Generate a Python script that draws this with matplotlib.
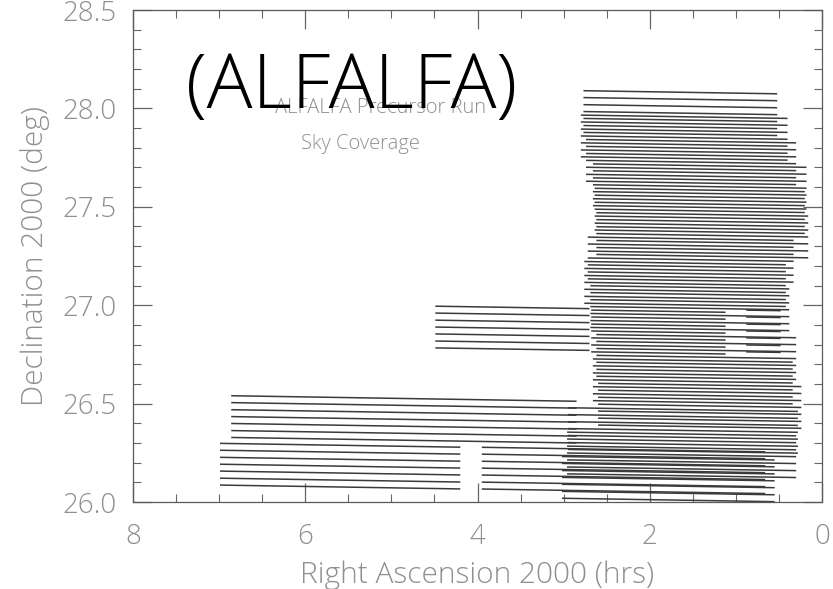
import matplotlib
matplotlib.use("Agg")
import matplotlib.pyplot as plt
from matplotlib.ticker import MultipleLocator

# ALFA has 7 beams: each drift scan gives 7 parallel tracks (deg offsets from top beam)
beam_offsets = [0.0, -0.035, -0.071, -0.106, -0.141, -0.177, -0.212]
drift_rate = 0.007  # deg of declination lost per hour of RA along a scan

# drifts: declination of top beam at scan start, RA start, RA end (hrs)
drift_dec = [26.298, 26.278, 26.540, 26.995,
             28.090, 27.842, 27.594, 27.346, 27.099, 26.851, 26.603, 26.355,
             27.966, 27.718, 27.470, 27.222, 26.975, 26.975, 26.727, 26.479, 26.231]
drift_ra_start = [6.99, 3.95, 6.86, 4.49,
                  2.77, 2.74, 2.64, 2.72, 2.69, 2.62, 2.60, 2.96,
                  2.80, 2.66, 2.62, 2.76, 2.68, 0.88, 2.66, 2.95, 3.02]
drift_ra_end = [4.20, 0.66, 2.85, 2.70,
                0.52, 0.30, 0.20, 0.33, 0.38, 0.30, 0.24, 0.30,
                0.40, 0.18, 0.16, 0.42, 1.12, 0.48, 0.34, 0.28, 0.55]

title_lines = ["ALFALFA Precursor Run", "Sky Coverage"]
x_ticks = [8, 6, 4, 2, 0]
y_ticks = [26.0, 26.5, 27.0, 27.5, 28.0, 28.5]

grey = "#8f8f8f"
thin = dict(family="Open Sans", fontweight="light")

fig = plt.figure(figsize=(8.33, 5.89), dpi=100)
ax = fig.add_axes([0.1597, 0.1477, 0.8271, 0.8353])

for dec0, ra0, ra1 in zip(drift_dec, drift_ra_start, drift_ra_end):
    for off in beam_offsets:
        d0 = dec0 + off
        d1 = d0 - drift_rate * (ra0 - ra1)
        ax.plot([ra0, ra1], [d0, d1], color="#3a3a3a", lw=1.1, solid_capstyle="butt")

ax.set_xlim(8, 0)
ax.set_ylim(26.0, 28.5)
ax.set_xticks(x_ticks)
ax.set_xticklabels([str(t) for t in x_ticks], **thin)
ax.set_yticks(y_ticks)
ax.set_yticklabels([f"{t:.1f}" for t in y_ticks], **thin)
ax.xaxis.set_minor_locator(MultipleLocator(0.5))
ax.yaxis.set_minor_locator(MultipleLocator(0.1))
ax.tick_params(which="both", direction="in", top=True, right=True, colors="#666666",
               labelcolor=grey, labelsize=20)
ax.tick_params(which="major", length=14, width=0.9)
ax.tick_params(which="minor", length=6, width=0.8)
ax.tick_params(axis="x", pad=15)
ax.tick_params(axis="y", pad=12)
for s in ax.spines.values():
    s.set_color("#5a5a5a")
    s.set_linewidth(0.9)

ax.set_xlabel("Right Ascension 2000 (hrs)", fontsize=21.5, color=grey, labelpad=7, **thin)
ax.set_ylabel("Declination 2000 (deg)", fontsize=21.5, color=grey, labelpad=9, **thin)

ax.text(5.13, 28.0, title_lines[0], fontsize=14.5, color=grey, ha="center", va="center", **thin)
ax.text(5.36, 27.82, title_lines[1], fontsize=14.5, color=grey, ha="center", va="center", **thin)

fig.text(0.4226, 0.8166, "(ALFALFA)", fontsize=55, color="black",
         ha="center", va="baseline", **thin)

fig.savefig("out.png", dpi=100)
